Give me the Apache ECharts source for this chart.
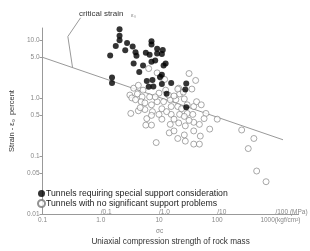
<!DOCTYPE html>
<html>
<head>
<meta charset="utf-8">
<script src="https://cdn.jsdelivr.net/npm/echarts@6/dist/echarts.min.js"></script>
<style>
  html, body { margin: 0; padding: 0; background: #fff; }
  #main { width: 310px; height: 251px; }
</style>
</head>
<body>
<div id="main"></div>
<script>
// strength of rock mass (kgf/cm2) vs strain (%)
var specialPts = [
  [2.10, 15.2], [2.10, 11.8], [2.10, 9.8], [1.81, 7.8], [2.83, 8.8], [2.63, 6.6],
  [1.45, 5.4], [3.53, 7.7], [3.95, 6.1], [4.10, 5.3], [7.43, 9.5], [7.43, 8.3],
  [5.94, 6.0], [6.90, 5.55], [9.29, 7.0], [11.6, 6.7], [9.29, 5.8], [11.2, 5.7],
  [3.67, 3.9], [5.32, 3.6], [7.43, 4.2], [8.61, 4.4], [13.0, 3.9], [12.0, 3.6],
  [4.58, 2.8], [11.2, 2.5], [10.4, 2.3], [1.56, 2.25], [1.56, 1.81], [7.71, 2.03],
  [6.17, 1.95], [6.65, 1.55], [8.00, 1.57], [11.2, 1.74], [16.2, 1.81], [29.4, 1.77],
  [28.3, 1.40], [13.5, 1.18], [29.4, 0.69]
];
var normalPts = [
  [32.8, 2.63], [42.6, 2.0], [6.65, 3.2], [9.29, 2.7], [10.8, 2.25], [12.5, 2.08],
  [21.8, 1.47], [3.67, 1.47], [4.42, 1.65], [3.16, 1.12], [3.41, 1.0], [4.26, 1.17],
  [5.13, 1.04], [4.94, 0.86], [5.73, 0.82], [3.28, 0.54], [4.42, 0.60], [5.73, 0.63],
  [6.17, 0.44], [7.43, 0.76], [7.71, 0.58], [7.43, 0.50], [5.94, 0.34], [7.43, 0.34],
  [11.2, 0.43], [11.2, 0.65], [9.29, 0.86], [12.0, 0.86], [15.6, 0.93], [16.2, 0.71],
  [16.2, 0.52], [15.6, 0.35], [15.0, 0.25], [21.8, 0.37], [22.6, 0.52], [21.0, 0.71],
  [19.5, 0.93], [22.6, 1.17], [21.0, 1.42], [27.2, 0.96], [30.5, 0.76], [30.5, 0.54],
  [27.2, 0.48], [28.3, 0.33], [27.2, 0.23], [21.0, 0.20], [39.5, 0.71], [38.1, 0.52],
  [39.5, 0.38], [39.5, 0.27], [44.2, 0.86], [53.2, 0.76], [49.4, 0.35], [51.2, 0.22],
  [39.5, 0.16], [49.4, 0.16], [28.3, 0.18], [74.3, 0.29], [100, 0.43], [64.0, 0.54],
  [8.95, 0.17], [263, 0.28], [426, 0.20], [341, 0.134], [476, 0.055], [690, 0.036],
  [26.2, 1.26], [13.0, 1.36], [14.5, 1.12], [10.0, 1.21], [8.61, 1.04], [6.90, 1.04],
  [18.1, 1.08], [24.4, 0.65], [32.8, 0.41], [13.5, 0.58], [10.0, 0.52], [18.1, 0.43],
  [59.5, 0.44], [3.95, 0.93], [5.32, 1.36], [36.7, 1.42], [18.1, 0.27], [4.76, 0.68]
];
var criticalLine = [[0.1, 5.0], [1350, 0.19]];
var calloutLine = [[0.328, 3.3], [0.272, 11.4], [0.45, 24]];

var yTicks = [0.01, 0.05, 0.1, 0.5, 1, 5, 10];
var yTickLabels = ['0.01', '0.05', '0.1', '0.5', '1.0', '5.0', '10.0'];
var xTicks = [0.1, 1, 10, 100, 1000];
var xTickLabels = ['0.1', '1.0', '10', '100', '{u|1000(kgf/cm²)}'];
var mpaTicks = [1, 10, 100, 1000];
var mpaLabels = ['/0.1', '/1.0', '/10', '/100 (MPa)'];

var font = 'Liberation Sans, Arial, sans-serif';
var myChart = echarts.init(document.getElementById('main'));

var option = {
  animation: false,
  textStyle: { fontFamily: font },
  grid: { left: 36, right: 1, top: 28, bottom: 32 },
  legend: {
    orient: 'vertical',
    left: 37,
    top: 189,
    padding: 0,
    itemWidth: 7,
    itemHeight: 7,
    itemGap: 1,
    icon: 'circle',
    textStyle: { fontSize: 8.7, color: '#222', padding: [0, 0, 0, -4] },
    data: ['Tunnels requiring special support consideration', 'Tunnels with no significant support problems']
  },
  xAxis: [{
    type: 'log',
    min: 0.1,
    max: 2500,
    name: 'Uniaxial compression strength of rock mass',
    nameLocation: 'middle',
    nameGap: 24,
    nameTextStyle: { fontSize: 8.2, color: '#333' },
    axisLine: { lineStyle: { color: '#999', width: 1 } },
    axisTick: { show: false },
    splitLine: { show: false },
    axisLabel: {
      customValues: xTicks,
      fontSize: 6.5,
      color: '#888',
      margin: 3,
      rich: { u: { fontSize: 6.5, color: '#888', padding: [0, 0, 0, 10] } },
      formatter: function (v) {
        var i = xTicks.indexOf(v);
        return i < 0 ? '' : xTickLabels[i];
      }
    }
  }, {
    type: 'log',
    min: 0.1,
    max: 2500,
    position: 'bottom',
    axisLine: { show: false },
    axisTick: { show: false },
    splitLine: { show: false },
    axisLabel: {
      customValues: mpaTicks,
      inside: true,
      fontSize: 6.5,
      color: '#888',
      margin: -2,
      align: 'left',
      formatter: function (v) {
        var i = mpaTicks.indexOf(v);
        return i < 0 ? '' : mpaLabels[i];
      }
    }
  }],
  yAxis: {
    type: 'log',
    min: 0.01,
    max: 16,
    name: 'Strain - ε₀  percent',
    nameLocation: 'middle',
    nameRotate: 90,
    nameGap: 22,
    nameTextStyle: { fontSize: 7.5, color: '#333' },
    axisLine: { lineStyle: { color: '#999', width: 1 } },
    axisTick: { customValues: yTicks, length: 3, lineStyle: { color: '#999' } },
    splitLine: { show: false },
    axisLabel: {
      customValues: yTicks,
      fontSize: 6.5,
      color: '#888',
      margin: 3,
      formatter: function (v) {
        var i = yTicks.indexOf(v);
        return i < 0 ? '' : yTickLabels[i];
      }
    }
  },
  graphic: [
    { type: 'text', left: 79, top: 10, style: { text: 'critical strain', fontSize: 8, fill: '#333', fontFamily: font } },
    { type: 'text', left: 131, top: 12, style: { text: 'ε₀', fontSize: 6, fill: '#888', fontFamily: font } },
    { type: 'text', left: 156, top: 228, style: { text: 'σc', fontSize: 6.5, fill: '#888', fontFamily: font } }
  ],
  series: [
    {
      name: 'critical',
      type: 'line',
      data: criticalLine,
      symbol: 'none',
      lineStyle: { color: '#999', width: 1 },
      z: 1
    },
    {
      name: 'callout',
      type: 'line',
      data: calloutLine,
      symbol: 'none',
      clip: false,
      lineStyle: { color: '#999', width: 1 },
      z: 1
    },
    {
      name: 'Tunnels with no significant support problems',
      type: 'scatter',
      data: normalPts,
      symbolSize: 6,
      itemStyle: { color: '#fff', borderColor: '#777', borderWidth: 0.8 },
      z: 2
    },
    {
      name: 'Tunnels requiring special support consideration',
      type: 'scatter',
      data: specialPts,
      symbolSize: 6,
      itemStyle: { color: '#000' },
      z: 3
    }
  ]
};

option && myChart.setOption(option);
</script>
</body>
</html>
